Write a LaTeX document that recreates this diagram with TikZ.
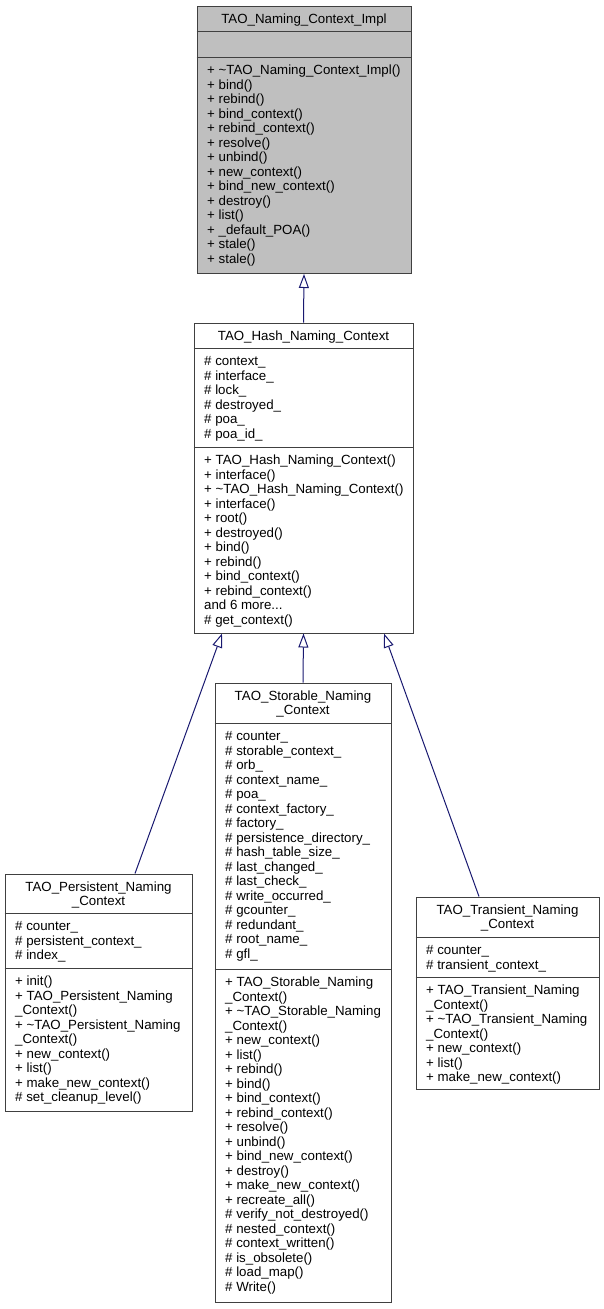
\documentclass[tikz,border=0pt]{standalone}
\usepackage{fontspec}
\setmainfont{Liberation Sans}
\usetikzlibrary{arrows.meta}
\definecolor{edgeblue}{HTML}{191970}
\definecolor{boxgray}{HTML}{404040}
\definecolor{basefill}{HTML}{BFBFBF}

\begin{document}
\begin{tikzpicture}[x=1pt, y=-1pt,
    class node/.style={rectangle, draw=boxgray, line width=1pt, fill=white, inner sep=0pt},
    title text/.style={anchor=north, align=center, inner sep=0pt, font=\fontsize{13.3}{14.5}\selectfont},
    member text/.style={anchor=north west, align=left, inner sep=0pt, font=\fontsize{13.3}{14.5}\selectfont},
    class line/.style={draw=boxgray, line width=1pt},
    inherit/.style={draw=edgeblue, line width=1pt, -{Triangle[open, length=14pt, width=10pt]}}]

  \useasboundingbox (0,0) rectangle (604,1309);

  % base class
  \node[class node, fill=basefill, minimum width=214pt, minimum height=267pt] (impl) at (304,140) {};
  \node[title text] (impl title) at (304,13.5) {\strut TAO\_Naming\_Context\_Impl};
  \draw[class line] (impl.west |- 0,31) -- (impl.east |- 0,31);
  \draw[class line] (impl.west |- 0,57) -- (impl.east |- 0,57);
  \node[member text] (impl ops) at (207,64.5) {\strut + \textasciitilde TAO\_Naming\_Context\_Impl()\\
    + bind()\\+ rebind()\\+ bind\_context()\\+ rebind\_context()\\+ resolve()\\+ unbind()\\
    + new\_context()\\+ bind\_new\_context()\\+ destroy()\\+ list()\\+ \_default\_POA()\\
    + stale()\\+ stale()};

  % hash context
  \node[class node, minimum width=219pt, minimum height=310pt] (hash) at (303.5,478) {};
  \node[title text] (hash title) at (303.5,330) {\strut TAO\_Hash\_Naming\_Context};
  \draw[class line] (hash.west |- 0,348) -- (hash.east |- 0,348);
  \draw[class line] (hash.west |- 0,447) -- (hash.east |- 0,447);
  \node[member text] (hash attrs) at (204,355.5) {\strut \# context\_\\\# interface\_\\\# lock\_\\
    \# destroyed\_\\\# poa\_\\\# poa\_id\_};
  \node[member text] (hash ops) at (204,454.5) {\strut + TAO\_Hash\_Naming\_Context()\\
    + interface()\\+ \textasciitilde TAO\_Hash\_Naming\_Context()\\+ interface()\\+ root()\\
    + destroyed()\\+ bind()\\+ rebind()\\+ bind\_context()\\+ rebind\_context()\\
    and 6 more...\\\# get\_context()};

  % persistent context
  \node[class node, minimum width=187pt, minimum height=237pt] (persistent) at (98.5,992.5) {};
  \node[title text] (persistent title) at (98.5,881) {\strut TAO\_Persistent\_Naming\\\_Context};
  \draw[class line] (persistent.west |- 0,913) -- (persistent.east |- 0,913);
  \draw[class line] (persistent.west |- 0,968) -- (persistent.east |- 0,968);
  \node[member text] (persistent attrs) at (15,920.5) {\strut \# counter\_\\
    \# persistent\_context\_\\\# index\_};
  \node[member text] (persistent ops) at (15,975.5) {\strut + init()\\
    + TAO\_Persistent\_Naming\\\_Context()\\+ \textasciitilde TAO\_Persistent\_Naming\\
    \_Context()\\+ new\_context()\\+ list()\\+ make\_new\_context()\\\# set\_cleanup\_level()};

  % storable context
  \node[class node, minimum width=176pt, minimum height=619pt] (storable) at (303,992.5) {};
  \node[title text] (storable title) at (303,690) {\strut TAO\_Storable\_Naming\\\_Context};
  \draw[class line] (storable.west |- 0,723) -- (storable.east |- 0,723);
  \draw[class line] (storable.west |- 0,969) -- (storable.east |- 0,969);
  \node[member text] (storable attrs) at (225,730.5) {\strut \# counter\_\\
    \# storable\_context\_\\\# orb\_\\\# context\_name\_\\\# poa\_\\\# context\_factory\_\\
    \# factory\_\\\# persistence\_directory\_\\\# hash\_table\_size\_\\\# last\_changed\_\\
    \# last\_check\_\\\# write\_occurred\_\\\# gcounter\_\\\# redundant\_\\\# root\_name\_\\
    \# gfl\_};
  \node[member text] (storable ops) at (225,976.5) {\strut + TAO\_Storable\_Naming\\
    \_Context()\\+ \textasciitilde TAO\_Storable\_Naming\\\_Context()\\+ new\_context()\\
    + list()\\+ rebind()\\+ bind()\\+ bind\_context()\\+ rebind\_context()\\+ resolve()\\
    + unbind()\\+ bind\_new\_context()\\+ destroy()\\+ make\_new\_context()\\
    + recreate\_all()\\\# verify\_not\_destroyed()\\\# nested\_context()\\
    \# context\_written()\\\# is\_obsolete()\\\# load\_map()\\\# Write()};

  % transient context
  \node[class node, minimum width=183pt, minimum height=192pt] (transient) at (507.5,993) {};
  \node[title text] (transient title) at (507.5,904) {\strut TAO\_Transient\_Naming\\\_Context};
  \draw[class line] (transient.west |- 0,937) -- (transient.east |- 0,937);
  \draw[class line] (transient.west |- 0,977) -- (transient.east |- 0,977);
  \node[member text] (transient attrs) at (426,944.5) {\strut \# counter\_\\
    \# transient\_context\_};
  \node[member text] (transient ops) at (426,984.5) {\strut + TAO\_Transient\_Naming\\
    \_Context()\\+ \textasciitilde TAO\_Transient\_Naming\\\_Context()\\+ new\_context()\\
    + list()\\+ make\_new\_context()};

  % inheritance
  \path[every edge/.style={inherit}]
    (hash.north) edge (impl.south)
    (storable.north) edge (hash.south)
    ([xshift=36.5pt]persistent.north) edge ([xshift=-81.5pt]hash.south)
    ([xshift=-28.5pt]transient.north) edge ([xshift=80.5pt]hash.south);
\end{tikzpicture}
\end{document}
